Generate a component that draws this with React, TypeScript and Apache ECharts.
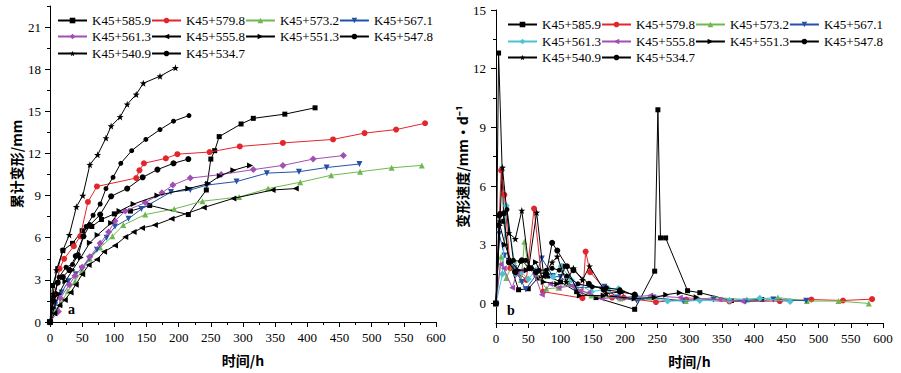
import React, { useEffect, useRef } from 'react';
import * as echarts from 'echarts';

// ---------- names ----------
const stations = ['K45+585.9', 'K45+579.8', 'K45+573.2', 'K45+567.1', 'K45+561.3', 'K45+555.8', 'K45+551.3', 'K45+547.8', 'K45+540.9', 'K45+534.7'];

// ---------- (a) cumulative deformation [h, mm] ----------
const cum5859 = [[0,0],[4,2.6],[12,3.8],[20,5.1],[35,5.6],[50,6.5],[65,6.8],[80,7.3],[100,7.7],[125,7.9],[155,8.3],[215,7.65],[243,9.4],[250,11.6],[256,12.2],[263,13.2],[297,14.1],[316,14.5],[365,14.8],[412,15.25]];
const cum5798 = [[0,0],[8,2.0],[15,3.8],[22,4.5],[37,5.4],[47,6.1],[59,8.55],[73,9.65],[134,10.25],[139,10.8],[146,11.3],[180,11.65],[198,11.95],[248,12.1],[295,12.5],[362,12.75],[440,13.0],[489,13.45],[538,13.7],[583,14.15]];
const cum5732 = [[0,0],[8,0.8],[16,1.3],[28,2.2],[39,2.9],[50,3.7],[62,4.5],[78,5.3],[97,6.1],[114,6.9],[148,7.65],[193,8.05],[237,8.6],[294,8.9],[339,9.5],[389,9.95],[437,10.45],[482,10.7],[531,10.98],[578,11.15]];
const cum5671 = [[0,0],[8,1.2],[18,2.1],[28.5,2.9],[40,3.4],[49,3.8],[61,4.5],[73,5.15],[88,6.0],[101,6.8],[122,7.35],[142,8.05],[188,9.25],[218,9.4],[244,9.75],[290,10.0],[337,10.6],[387,10.7],[430,11.0],[481,11.25]];
const cum5613 = [[0,0],[13,0.75],[16,1.7],[30,2.65],[39,3.3],[50,3.9],[62,4.65],[78,5.6],[91,6.4],[101,7.2],[117,7.9],[148,8.5],[174,9.2],[191,9.75],[218,10.25],[266,10.5],[316,10.85],[362,11.15],[409,11.6],[456,11.85]];
const cum5558 = [[0,0],[7,0.6],[14.5,1.2],[23,1.57],[32,2.1],[40,2.65],[50,3.4],[60,4.05],[73,4.45],[84,5.0],[101,5.45],[117,6.05],[130,6.4],[143,6.7],[163,6.9],[189,7.35],[239,8.15],[285,8.8],[346,9.4],[382,9.5]];
const cum5513 = [[0,0],[6,1.0],[14,2.0],[24,2.9],[35,3.7],[48,4.6],[62,5.65],[74,6.2],[95,7.05],[108,7.9],[130,8.4],[167,9.0],[215,9.5],[246,9.85],[264,10.4],[285,10.8],[311,11.15]];
const cum5478 = [[0,0],[5,1.5],[12,2.8],[20,3.2],[30,3.7],[40,4.7],[52,6.1],[62,6.9],[78,7.65],[95,8.95],[120,9.5],[144,10.3],[167,10.85],[192,11.3],[215,11.6]];
const cum5409 = [[0,0],[5,2.0],[10,3.7],[20,5.1],[30,6.2],[41,8.2],[51,9.0],[62,11.2],[74,11.9],[87,13.1],[95,13.95],[109,14.6],[120,15.5],[134,16.2],[145,17.0],[171,17.5],[195,18.1]];
const cum5347 = [[0,0],[6,1.8],[14,3.2],[25,3.9],[35,4.1],[44,4.8],[56,6.8],[67,7.6],[78,8.4],[87,9.5],[98,10.3],[110,11.3],[127,12.2],[149,13.0],[171,13.7],[192,14.3],[216,14.7]];

// ---------- (b) deformation rate [h, mm/d] ----------
const rate5859 = [[0,0],[4,12.8],[12,4.2],[20,2.2],[35,0.7],[50,0.75],[65,1.3],[80,1.4],[100,1.1],[125,0.6],[155,0.3],[215,-0.3],[246,1.65],[251,9.9],[255,3.35],[263,3.35],[297,0.65],[316,0.55],[365,0.15],[412,0.2]];
const rate5798 = [[0,0],[8,6.8],[13,5.55],[22,1.8],[37,1.5],[47,1.2],[59,4.85],[73,0.6],[134,0.27],[139,2.65],[146,1.6],[180,0.3],[198,0.3],[248,0.07],[295,0.2],[362,0.1],[440,0.12],[489,0.2],[538,0.15],[583,0.22]];
const rate5732 = [[0,0],[8,2.4],[16,1.3],[28,2.2],[39,1.2],[44,3.15],[50,1.9],[62,1.5],[78,0.75],[97,0.8],[114,1.0],[148,0.4],[193,0.25],[237,0.3],[294,0.13],[339,0.3],[389,0.2],[437,0.3],[482,0.12],[531,0.12],[578,0.0]];
const rate5671 = [[0,0],[5,3.55],[13,2.45],[28.5,1.8],[40,1.1],[46,0.72],[61,1.4],[71,2.3],[88,1.4],[100,1.35],[122,0.8],[168,0.85],[188,0.3],[218,0.15],[244,0.3],[290,0.12],[337,0.2],[387,0.1],[430,0.2],[481,0.14]];
const rate5613 = [[0,0],[10,1.5],[16,5.0],[31,1.5],[39,1.6],[50,1.25],[62,1.7],[78,1.5],[89,1.35],[101,1.9],[117,1.2],[148,0.6],[174,0.75],[190,0.75],[218,0.35],[266,0.12],[316,0.15],[362,0.15],[409,0.27],[456,0.1]];
const rate5558 = [[0,0],[7,2.0],[12,1.8],[25,0.8],[32,1.5],[40,1.7],[50,1.8],[60,1.5],[71,0.45],[84,1.0],[97,0.8],[117,0.9],[130,0.65],[143,0.55],[164,0.25],[189,0.3],[239,0.4],[285,0.3],[346,0.2],[382,0.1]];
const rate5513 = [[0,0],[6,4.0],[14,3.0],[24,2.1],[35,1.7],[48,1.7],[62,2.1],[74,1.1],[95,1.0],[108,1.9],[130,0.4],[167,0.4],[215,0.25],[246,0.3],[264,0.45],[285,0.55],[311,0.32]];
const rate5478 = [[0,0],[5,4.5],[12,4.6],[20,2.1],[30,1.6],[40,2.2],[52,1.8],[62,1.6],[78,1.5],[87,3.1],[95,2.7],[110,1.9],[120,1.7],[144,1.0],[167,0.7],[192,0.6],[215,0.45]];
const rate5409 = [[0,0],[6,4.2],[10,6.95],[20,3.6],[30,3.3],[40,4.75],[51,1.9],[63,4.65],[74,1.4],[87,2.1],[95,2.4],[109,1.1],[120,1.8],[134,1.2],[145,1.9],[171,0.5],[195,0.6]];
const rate5347 = [[0,0],[6,4.6],[17,4.8],[27,2.2],[38,2.15],[46,2.2],[55,1.8],[67,1.7],[78,1.7],[87,1.8],[98,1.7],[110,1.4],[127,1.0],[149,0.85],[171,0.8],[192,0.7],[216,0.4]];

const cumData = [cum5859, cum5798, cum5732, cum5671, cum5613, cum5558, cum5513, cum5478, cum5409, cum5347];
const rateData = [rate5859, rate5798, rate5732, rate5671, rate5613, rate5558, rate5513, rate5478, rate5409, rate5347];

// tick values
const leftMajor = [0, 3, 6, 9, 12, 15, 18, 21];
const leftMinor = [1.5, 4.5, 7.5, 10.5, 13.5, 16.5, 19.5, 22.5];
const rightMajor = [0, 3, 6, 9, 12, 15];
const rightMinor = [1.5, 4.5, 7.5, 10.5, 13.5];

const STAR = 'path://M0,-10L2.35,-3.24L9.51,-3.09L3.8,1.24L5.88,8.09L0,4L-5.88,8.09L-3.8,1.24L-9.51,-3.09L-2.35,-3.24Z';
const BLACK = '#000000';
const RED = '#e3262b';
const GREEN = '#6fb84f';
const BLUE = '#2451a8';
const PURPLE = '#a24fb3';
const CYAN = '#4cc3d3';

type Sty = { symbol: string; rotate: number; size: number; color: string };
const leftStyles: Sty[] = [
  { symbol: 'rect', rotate: 0, size: 5, color: BLACK },
  { symbol: 'circle', rotate: 0, size: 6, color: RED },
  { symbol: 'triangle', rotate: 0, size: 6, color: GREEN },
  { symbol: 'triangle', rotate: 180, size: 6, color: BLUE },
  { symbol: 'diamond', rotate: 0, size: 7, color: PURPLE },
  { symbol: 'triangle', rotate: 90, size: 6, color: BLACK },
  { symbol: 'triangle', rotate: -90, size: 6, color: BLACK },
  { symbol: 'circle', rotate: 0, size: 6, color: BLACK },
  { symbol: STAR, rotate: 0, size: 7, color: BLACK },
  { symbol: 'circle', rotate: 0, size: 5, color: BLACK },
];
const rightStyles: Sty[] = leftStyles.map((s, i) =>
  i === 4 ? { ...s, color: CYAN } : i === 5 ? { ...s, color: PURPLE } : s
);

const SERIF = 'Liberation Serif';
const CJK = 'Noto Sans CJK SC';

export default function App() {
  const ref = useRef<HTMLDivElement>(null);
  useEffect(() => {
    document.body.style.margin = '0';
    const chart = echarts.init(ref.current!, undefined, { renderer: 'svg' });

    const mkSeries = (data: number[][][], styles: Sty[], xi: number, yi: number, prefix: string) =>
      data.map((d, i) => ({
        type: 'line',
        name: prefix + stations[i],
        xAxisIndex: xi,
        yAxisIndex: yi,
        data: d,
        symbol: styles[i].symbol,
        symbolRotate: styles[i].rotate,
        symbolSize: styles[i].size,
        showAllSymbol: true,
        lineStyle: { width: 1, color: styles[i].color },
        itemStyle: { color: styles[i].color, borderWidth: 0 },
        emphasis: { disabled: true },
        z: 2 + i,
      }));

    const rows = [[0, 4], [4, 8], [8, 10]];
    const mkLegends = (prefix: string, left: number, tops: number[]) =>
      rows.map((r, k) => ({
        left,
        top: tops[k],
        orient: 'horizontal',
        itemWidth: 29,
        itemHeight: 7,
        itemGap: 0,
        padding: 0,
        selectedMode: false,
        data: stations.slice(r[0], r[1]).map((n) => prefix + n),
        formatter: (n: string) => n.slice(prefix.length),
        textStyle: { fontFamily: SERIF, fontSize: 13, color: '#000' },
      }));

    const axisCommon = {
      axisLine: { show: true, onZero: false, lineStyle: { color: '#000', width: 1 } },
      splitLine: { show: false },
    };
    const labelStyle = { fontFamily: SERIF, fontSize: 13, color: '#000' };
    const nameStyle = { fontFamily: CJK, fontSize: 14, fontWeight: 'bold', color: '#000' };

    chart.setOption({
      animation: false,
      textStyle: { fontFamily: SERIF },
      grid: [
        { left: 50, top: 6, width: 386, height: 316 },
        { left: 496, top: 10, width: 387, height: 313 },
      ],
      legend: [...mkLegends('L-', 57, [14, 30, 47]), ...mkLegends('R-', 507, [18, 35, 51])],
      xAxis: [0, 1].map((g) => ({
        type: 'value',
        gridIndex: g,
        min: 0,
        max: 600,
        interval: 50,
        name: '时间/h',
        nameLocation: 'middle',
        nameGap: 31,
        nameTextStyle: nameStyle,
        ...axisCommon,
        axisTick: { show: true, inside: false, length: 5, lineStyle: { color: '#000' } },
        minorTick: { show: true, splitNumber: 2, length: 3, lineStyle: { color: '#000' } },
        axisLabel: { ...labelStyle, margin: 9 },
      })),
      yAxis: [
        {
          type: 'value', gridIndex: 0, min: 0, max: 22.5, position: 'left',
          name: '累计变形/mm', nameLocation: 'middle', nameGap: 27, nameTextStyle: nameStyle,
          ...axisCommon,
          axisTick: { show: true, length: 5, customValues: leftMajor, lineStyle: { color: '#000' } },
          axisLabel: { ...labelStyle, margin: 9, customValues: leftMajor },
        },
        {
          type: 'value', gridIndex: 0, min: 0, max: 22.5, position: 'left', offset: 0,
          axisLine: { show: false }, splitLine: { show: false },
          axisTick: { show: true, length: 3, customValues: leftMinor, lineStyle: { color: '#000' } },
          axisLabel: { show: false },
        },
        {
          type: 'value', gridIndex: 1, min: -1, max: 15, position: 'left',
          name: '变形速度/mm•d⁻¹', nameLocation: 'middle', nameGap: 26, nameTextStyle: nameStyle,
          ...axisCommon,
          axisTick: { show: true, length: 5, customValues: rightMajor, lineStyle: { color: '#000' } },
          axisLabel: { ...labelStyle, margin: 10, customValues: rightMajor },
        },
        {
          type: 'value', gridIndex: 1, min: -1, max: 15, position: 'left', offset: 0,
          axisLine: { show: false }, splitLine: { show: false },
          axisTick: { show: true, length: 3, customValues: rightMinor, lineStyle: { color: '#000' } },
          axisLabel: { show: false },
        },
      ],
      graphic: [
        { type: 'text', left: 68, top: 302, style: { text: 'a', fontFamily: SERIF, fontWeight: 'bold', fontSize: 14, fill: '#000' } },
        { type: 'text', left: 507, top: 303, style: { text: 'b', fontFamily: SERIF, fontWeight: 'bold', fontSize: 14, fill: '#000' } },
      ],
      series: [
        ...mkSeries(cumData, leftStyles, 0, 0, 'L-'),
        ...mkSeries(rateData, rightStyles, 1, 2, 'R-'),
      ],
    });
    return () => chart.dispose();
  }, []);
  return <div ref={ref} style={{ position: 'fixed', left: 0, top: 0, width: 901, height: 373, background: '#fff' }} />;
}
